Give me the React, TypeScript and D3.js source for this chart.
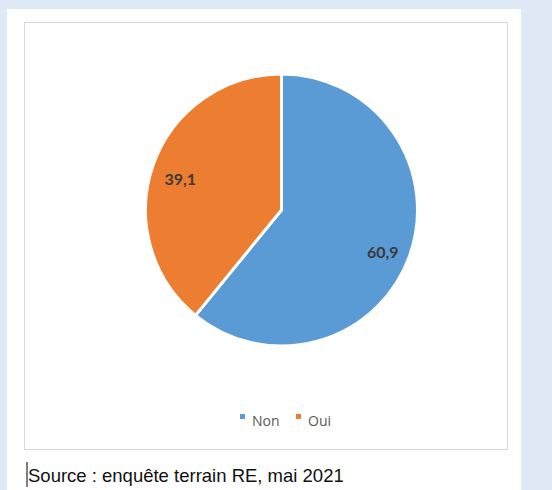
import React from "react";
import * as d3 from "d3";

const categories = ["Non", "Oui"];
const values = [60.9, 39.1];
const valueLabels = ["60,9", "39,1"];
const colors = ["#5b9bd5", "#ed7d31"];
const sourceText = "Source : enquête terrain RE, mai 2021";

export default function App() {
  const W = 552, H = 490;
  const cx = 281.5, cy = 210, r = 136;
  const pie = d3.pie<number>().sort(null).value((d) => d);
  const arcs = pie(values);
  const arcGen = d3.arc<d3.PieArcDatum<number>>().innerRadius(0).outerRadius(r);
  const lr = r * 0.79;
  const labelArc = d3.arc<d3.PieArcDatum<number>>().innerRadius(lr).outerRadius(lr);
  const legendX = [240, 296];
  return (
    <svg width={W} height={H} style={{ position: "absolute", left: 0, top: 0 }}>
      <rect x={0} y={0} width={W} height={H} fill="#dfe8f5" />
      <rect x={7} y={9} width={514} height={H - 9} fill="#ffffff" />
      <rect x={24.5} y={22.5} width={483} height={427} fill="#ffffff" stroke="#d9d9d9" strokeWidth={1} />
      <g transform={`translate(${cx},${cy})`}>
        {arcs.map((a, i) => (
          <path key={i} d={arcGen(a) || ""} fill={colors[i]} stroke="#ffffff" strokeWidth={3} strokeLinejoin="miter" />
        ))}
        {arcs.map((a, i) => {
          const [x, y] = labelArc.centroid(a);
          return (
            <text key={i} x={x} y={y + 5} textAnchor="middle" dominantBaseline="central"
              fontFamily="Lato, 'Open Sans', sans-serif" fontWeight="bold" fontSize={16} fill="#3a3a3a">
              {valueLabels[i]}
            </text>
          );
        })}
      </g>
      {categories.map((c, i) => (
        <g key={c}>
          <rect x={legendX[i]} y={414} width={5} height={5} fill={colors[i]} />
          <text x={legendX[i] + 12} y={426}
            fontFamily="'Open Sans', Lato, sans-serif" fontSize={14} fill="#595959">{c}</text>
        </g>
      ))}
      <line x1={27} y1={462} x2={27} y2={487} stroke="#000" strokeWidth={1} />
      <text x={28} y={482} fontFamily="'Liberation Sans', Arial, sans-serif" fontSize={18.5} fill="#111">{sourceText}</text>
    </svg>
  );
}
